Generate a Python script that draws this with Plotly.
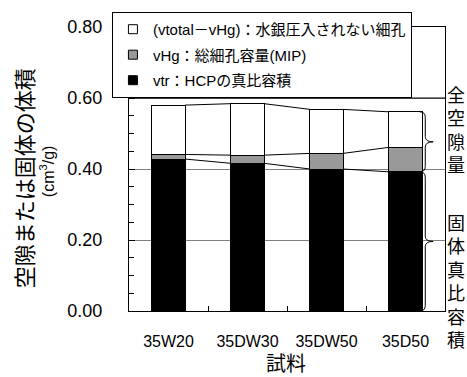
import plotly.graph_objects as go

# ---- data (cm3/g) ----
categories = ["35W20", "35DW30", "35DW50", "35D50"]
vtr = [0.428, 0.416, 0.400, 0.392]            # HCPの真比容積 (black)
vHg = [0.013, 0.023, 0.044, 0.069]            # 総細孔容量 MIP (grey)
v_unintruded = [0.139, 0.145, 0.124, 0.100]   # vtotal - vHg (white)
y_ticks = [0.0, 0.2, 0.4, 0.6, 0.8]

legend_names = ["(vtotal－vHg)：水銀圧入されない細孔", "vHg：総細孔容量(MIP)", "vtr：HCPの真比容積"]

BAR_W = 0.42
LATIN = "Liberation Sans, Arial, Noto Sans CJK JP"
CJK = "Noto Sans CJK JP, Liberation Sans"

x = list(range(len(categories)))
fig = go.Figure()

series = [(vtr, "#000000"), (vHg, "#999999"), (v_unintruded, "#ffffff")]
for vals, col in series:
    fig.add_trace(go.Bar(x=x, y=vals, width=BAR_W, marker=dict(color=col, line=dict(color="#000000", width=1)),
                         showlegend=False, hoverinfo="skip"))

# series lines connecting the tops of segments
cum = [0.0] * len(categories)
for vals, _ in series:
    cum = [c + v for c, v in zip(cum, vals)]
    xs, ys = [], []
    for i in range(len(categories) - 1):
        xs += [x[i] + BAR_W / 2, x[i + 1] - BAR_W / 2, None]
        ys += [cum[i], cum[i + 1], None]
    fig.add_trace(go.Scatter(x=xs, y=ys, mode="lines", line=dict(color="#000000", width=1),
                             showlegend=False, hoverinfo="skip"))

# legend entries
for k, (name, col) in enumerate(zip(legend_names, ["#ffffff", "#999999", "#000000"])):
    fig.add_trace(go.Scatter(x=[None], y=[None], mode="markers", name=name, legendgroup=f"g{k}",
                             marker=dict(symbol="square", size=9, color=col, line=dict(color="#000000", width=1))))

# braces for last sample
last = len(categories) - 1
solid = vtr[last]
total = vtr[last] + vHg[last] + v_unintruded[last]
x0 = x[last] + BAR_W / 2 - 0.03
xm = x[last] + BAR_W / 2 + 0.04
xt = x[last] + BAR_W / 2 + 0.14
r = 0.015


def brace(ya, yb):
    ymid = (ya + yb) / 2
    return (f"M {x0},{yb} Q {xm},{yb} {xm},{yb - r} L {xm},{ymid + r} Q {xm},{ymid} {xt},{ymid} "
            f"Q {xm},{ymid} {xm},{ymid - r} L {xm},{ya + r} Q {xm},{ya} {x0},{ya}")


shapes = [
    dict(type="path", xref="x", yref="y", path=brace(solid, total), line=dict(color="#000000", width=1)),
    dict(type="path", xref="x", yref="y", path=brace(0.0, solid), line=dict(color="#000000", width=1)),
    dict(type="line", xref="paper", yref="y", x0=0, x1=1, y0=0.6, y1=0.6, line=dict(color="#000000", width=1)),
]

ann_common = dict(xref="paper", yref="paper", showarrow=False, xanchor="center", yanchor="middle")
annotations = [
    dict(text="空隙または固体の体積", x=-0.335, y=0.468, textangle=-90,
         font=dict(family=CJK, size=22, color="#000000"), **ann_common),
    dict(text="(cm<sup>3</sup>/g)", x=-0.259, y=0.493, textangle=-90,
         font=dict(family=LATIN, size=16, color="#000000"), **ann_common),
    dict(text="試料", x=0.497, y=-0.18,
         font=dict(family=CJK, size=20, color="#000000"), **ann_common),
    dict(text="<br>".join("全空隙量"), x=1.035, y=0.641,
         font=dict(family=CJK, size=18, color="#000000"), **ann_common),
    dict(text="<br>".join("固体真比容積"), x=1.035, y=0.106,
         font=dict(family=CJK, size=18, color="#000000"), **ann_common),
]

fig.update_layout(
    width=467, height=377,
    margin=dict(l=129, r=22, t=27, b=66, autoexpand=False),
    paper_bgcolor="#ffffff", plot_bgcolor="#ffffff",
    barmode="stack",
    shapes=shapes, annotations=annotations,
    showlegend=True,
    legend=dict(x=-0.054, y=1.053, xanchor="left", yanchor="top", bgcolor="#ffffff",
                bordercolor="#000000", borderwidth=1, traceorder="grouped", tracegroupgap=3,
                font=dict(family=LATIN, size=15, color="#000000"),
                entrywidth=346, entrywidthmode="pixels"),
    xaxis=dict(range=[-0.5, 3.5], tickvals=x, ticktext=categories, ticks="",
               showline=True, linecolor="#000000", linewidth=1, mirror=True,
               showgrid=False, zeroline=False, ticklabelstandoff=16,
               tickfont=dict(family=LATIN, size=16, color="#000000"),
               minor=dict(tickvals=[0.5, 1.5, 2.5], ticks="inside", ticklen=5, tickcolor="#000000")),
    yaxis=dict(range=[0, 0.8], tickvals=y_ticks, tickformat=".2f", ticks="inside", ticklen=6,
               tickcolor="#000000", showline=True, linecolor="#000000", linewidth=1, mirror=True,
               showgrid=True, gridcolor="#808080", gridwidth=1, zeroline=False,
               ticklabelstandoff=22,
               tickfont=dict(family=LATIN, size=18, color="#000000"),
               minor=dict(dtick=0.05, ticks="inside", ticklen=5, tickcolor="#000000", showgrid=False)),
)

fig.write_html("out.html", config={"displayModeBar": False},
               post_script="document.body.style.margin='0';document.body.style.overflow='hidden';")
